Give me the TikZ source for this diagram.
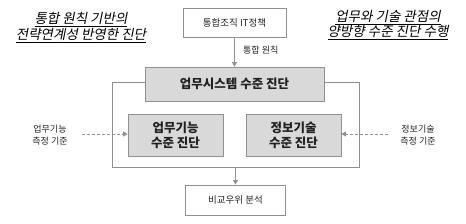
\documentclass[tikz,border=0pt]{standalone}
\usepackage{fontspec}
\setmainfont{Noto Sans CJK KR}
\newfontfamily\cjkit[FakeSlant=0.2]{Noto Sans CJK KR}
\usetikzlibrary{arrows.meta}
\definecolor{boxgray}{HTML}{D9D9D9}
\definecolor{linegray}{HTML}{909090}
\definecolor{txt}{HTML}{222222}
\tikzset{
  whitebox/.style={draw=linegray, fill=white, line width=0.8pt, inner sep=0pt, text=txt, font=\fontsize{9.5}{11}\selectfont},
  graybox/.style={draw=linegray, fill=boxgray, line width=0.8pt, inner sep=0pt, text=txt, font=\fontsize{12.5}{15}\selectfont\bfseries, align=center},
  framebox/.style={draw=linegray, line width=0.8pt, inner sep=0pt},
  conn/.style={draw=linegray, line width=0.8pt, -{Triangle[width=5pt,length=4.5pt]}},
  dconn/.style={draw=linegray, line width=0.8pt, dashed, dash pattern=on 3pt off 2pt, -{Triangle[width=5pt,length=4.5pt]}},
  lbl/.style={text=txt, font=\fontsize{9}{12}\selectfont, align=center, inner sep=0pt},
  note/.style={text=black, font=\fontsize{13.5}{15.5}\selectfont\cjkit, align=center, inner sep=0pt}
}
\begin{document}
\begin{tikzpicture}[x=1pt, y=-1pt]
\useasboundingbox (0,0) rectangle (466,224);
\fill[white] (0,0) rectangle (466,224);
\node[framebox, minimum width=247pt, minimum height=85pt] (frame) at (235.5,124.5) {};
\node[whitebox, minimum width=103pt, minimum height=29pt] (top) at (234.5,22.5) {통합조직 IT정책};
\node[graybox, minimum width=179pt, minimum height=34pt] (sys) at (234.5,84) {업무시스템 수준 진단};
\node[graybox, minimum width=95pt, minimum height=42pt] (biz) at (175.5,135) {업무기능\\수준 진단};
\node[graybox, minimum width=95pt, minimum height=42pt] (it) at (293.5,135) {정보기술\\수준 진단};
\node[whitebox, minimum width=100pt, minimum height=30pt] (cmp) at (235.5,200) {비교우위 분석};
\node[lbl] (lbiz) at (50,135) {업무기능\\측정 기준};
\node[lbl] (lit) at (418,135) {정보기술\\측정 기준};
\node[lbl, anchor=west] (prin) at (243,50) {통합 원칙};
\node[note] (nl) at (81,27.5) {\underline{통합 원칙 기반의}\\\underline{전략연계성 반영한 진단}};
\node[note] (nr) at (388,25) {\underline{업무와 기술 관점의}\\\underline{양방향 수준 진단 수행}};
\coordinate (lstart) at (82,134);
\coordinate (rstart) at (388,134);
\draw[conn] (top.south) -- (sys.north);
\draw[conn] (frame.south) -- (cmp.north);
\draw[dconn] (lstart) -- (biz.west |- lstart);
\draw[dconn] (rstart) -- (it.east |- rstart);
\end{tikzpicture}
\end{document}
